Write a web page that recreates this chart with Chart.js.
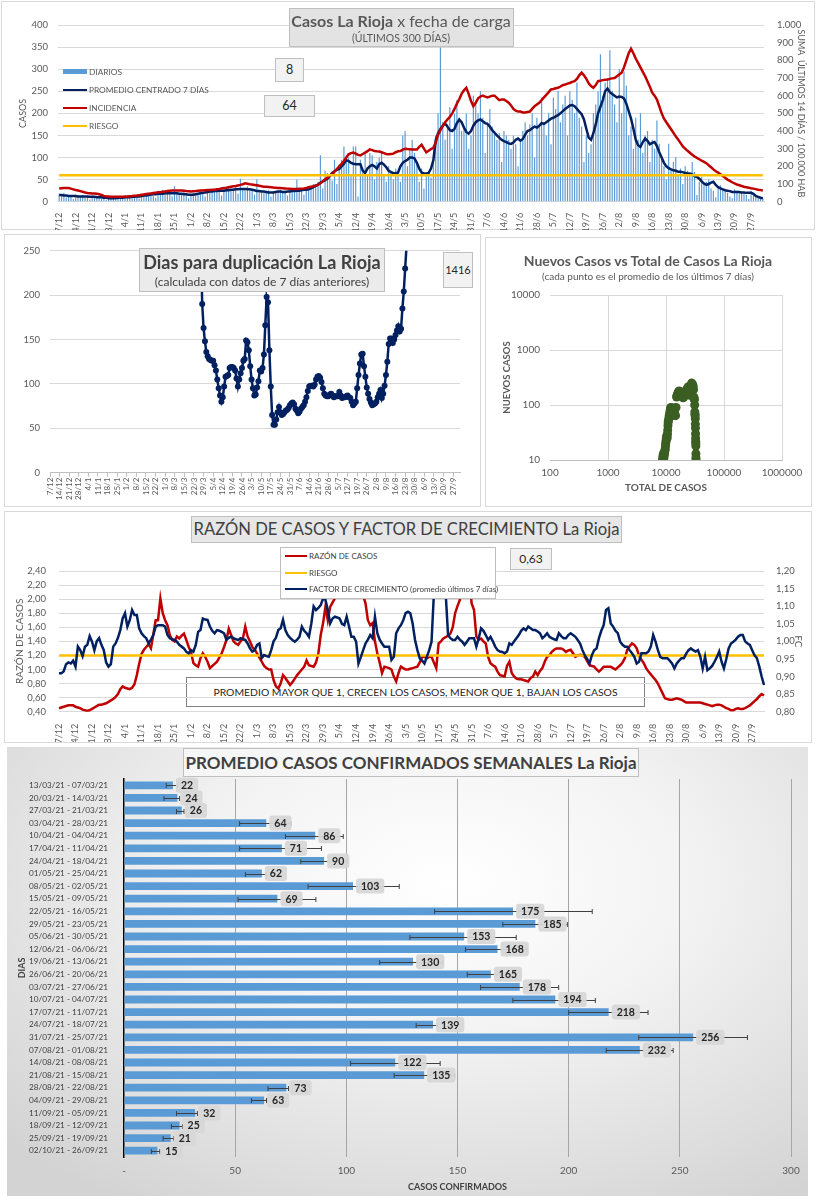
<!DOCTYPE html>
<html lang="es">
<head>
<meta charset="utf-8">
<title>Casos La Rioja</title>
<script src="https://cdn.jsdelivr.net/npm/chart.js@4.4.1/dist/chart.umd.min.js"></script>
<style>
html,body{margin:0;padding:0;background:#ffffff;}
body{position:relative;width:816px;height:1200px;overflow:hidden;font-family:Lato,"Open Sans",sans-serif;}
.panel{position:absolute;box-sizing:border-box;border:1px solid #d9d9d9;background:#ffffff;z-index:0;}
canvas{position:absolute;z-index:2;}
.bx{position:absolute;box-sizing:border-box;z-index:3;white-space:nowrap;text-align:center;}
.txt{position:absolute;z-index:4;white-space:nowrap;text-align:center;color:#595959;}
.lg{position:absolute;z-index:4;white-space:nowrap;color:#595959;}
.sw{display:inline-block;width:24px;vertical-align:middle;margin-right:2px;position:relative;top:-1px;}
</style>
</head>
<body>
<!-- panels -->
<div class="panel" style="left:1px;top:1px;width:814px;height:229px;"></div>
<div class="panel" style="left:4px;top:234px;width:477px;height:273px;"></div>
<div class="panel" style="left:485px;top:237px;width:327px;height:270px;"></div>
<div class="panel" style="left:4px;top:511px;width:808px;height:232px;"></div>
<div class="panel" style="left:7px;top:747px;width:801px;height:449px;border:none;background:radial-gradient(ellipse 75% 85% at 55% 30%, #ffffff 0%, #f3f3f3 40%, #d3d3d3 100%);"></div>

<!-- note box of chart 4 (behind the lines) -->
<div class="bx" style="z-index:1;left:186px;top:677px;width:459px;height:30px;border:1px solid #808080;font-size:10.4px;line-height:28px;color:#262626;">PROMEDIO MAYOR QUE 1, CRECEN LOS CASOS, MENOR QUE 1, BAJAN LOS CASOS</div>

<canvas id="c1" width="816" height="230" style="left:0;top:0;"></canvas>
<canvas id="c2" width="475" height="272" style="left:5px;top:235px;"></canvas>
<canvas id="c3" width="327" height="270" style="left:485px;top:237px;"></canvas>
<canvas id="c4" width="807" height="230" style="left:5px;top:512px;"></canvas>
<canvas id="c5" width="801" height="447" style="left:7px;top:748px;"></canvas>

<!-- chart 1 overlays -->
<div class="bx" style="left:289px;top:8px;width:225px;height:39px;background:#e3e3e3;border:1px solid #bfbfbf;"></div>
<div class="txt" style="left:201px;top:11px;width:400px;font-size:16px;line-height:20px;"><b>Casos La Rioja</b> x fecha de carga</div>
<div class="txt" style="left:201px;top:32px;width:400px;font-size:10.5px;line-height:12px;">(ÚLTIMOS 300 DÍAS)</div>
<div class="lg" style="left:63px;top:66px;font-size:8.3px;line-height:12px;"><span class="sw" style="height:5px;background:#5b9bd5;"></span>DIARIOS</div>
<div class="lg" style="left:63px;top:84px;font-size:8.3px;line-height:12px;"><span class="sw" style="height:2.5px;background:#002060;"></span>PROMEDIO CENTRADO 7 DÍAS</div>
<div class="lg" style="left:63px;top:102px;font-size:8.3px;line-height:12px;"><span class="sw" style="height:2.5px;background:#c00000;"></span>INCIDENCIA</div>
<div class="lg" style="left:63px;top:120px;font-size:8.3px;line-height:12px;"><span class="sw" style="height:2.5px;background:#ffc000;"></span>RIESGO</div>
<div class="bx" style="left:275px;top:58px;width:29px;height:24px;background:#f2f2f2;border:1px solid #bfbfbf;font-size:12.5px;line-height:22px;color:#262626;">8</div>
<div class="bx" style="left:264px;top:95px;width:51px;height:22px;background:#f2f2f2;border:1px solid #bfbfbf;font-size:12.5px;line-height:20px;color:#262626;">64</div>

<!-- chart 2 overlays -->
<div class="bx" style="left:139px;top:248px;width:246px;height:44px;background:#ebebeb;border:1px solid #bfbfbf;"></div>
<div class="txt" style="left:62px;top:252px;width:400px;font-size:18px;line-height:21px;font-weight:bold;color:#404040;">Dias para duplicación La Rioja</div>
<div class="txt" style="left:62px;top:275px;width:400px;font-size:12px;line-height:14px;color:#404040;">(calculada con datos de 7 días anteriores)</div>
<div class="bx" style="left:443px;top:252px;width:30px;height:36px;background:#f2f2f2;border:1px solid #bfbfbf;font-size:11px;line-height:34px;color:#262626;">1416</div>

<!-- chart 3 overlays -->
<div class="txt" style="left:448px;top:253px;width:400px;font-size:14px;line-height:16px;font-weight:bold;">Nuevos Casos vs Total de Casos La Rioja</div>
<div class="txt" style="left:448px;top:270px;width:400px;font-size:10px;line-height:12px;">(cada punto es el promedio de los últimos 7 días)</div>

<!-- chart 4 overlays -->
<div class="bx" style="left:191px;top:516px;width:431px;height:27px;background:#e7e7e7;border:1px solid #bfbfbf;font-size:16.6px;line-height:25px;color:#404040;">RAZÓN DE CASOS Y FACTOR DE CRECIMIENTO La Rioja</div>
<div class="bx" style="left:280px;top:547px;width:216px;height:52px;background:#ffffff;border:1px solid #bfbfbf;"></div>
<div class="lg" style="left:285px;top:551px;font-size:8px;line-height:10px;color:#404040;"><span class="sw" style="width:22px;height:2.5px;background:#c00000;"></span>RAZÓN DE CASOS</div>
<div class="lg" style="left:285px;top:568px;font-size:8px;line-height:10px;color:#404040;"><span class="sw" style="width:22px;height:2.5px;background:#ffc000;"></span>RIESGO</div>
<div class="lg" style="left:285px;top:584px;font-size:8px;line-height:10px;color:#404040;"><span class="sw" style="width:22px;height:2.5px;background:#002060;"></span>FACTOR DE CRECIMIENTO (promedio últimos 7 días)</div>
<div class="bx" style="left:510px;top:548px;width:42px;height:22px;background:#f2f2f2;border:1px solid #bfbfbf;font-size:12px;line-height:20px;color:#262626;">0,63</div>

<!-- chart 5 overlay -->
<div class="bx" style="left:183px;top:748px;width:456px;height:29px;background:#f6f6f6;border:1px solid #bfbfbf;font-size:17px;line-height:27px;font-weight:bold;color:#404040;">PROMEDIO CASOS CONFIRMADOS SEMANALES La Rioja</div>

<script>
// ---------------- DATA ----------------
const nDias = 300;            // 7/12/2020 ... 2/10/2021
const tickEvery = 7;          // one date label per week
const dayLabels = [];
for (let i = 0; i < nDias; i++) {
  const d = new Date(2020, 11, 7 + i);
  dayLabels.push(d.getDate() + '/' + (d.getMonth() + 1));
}

// Chart 1: daily cases (one row per week)
const diarios = [
18,15,20,10,14,12,6,
16,14,12,15,9,11,5,
13,12,10,11,8,9,4,
10,9,7,5,9,11,6,
12,11,13,9,14,10,7,
15,17,14,16,19,13,9,
22,20,27,18,21,17,12,
35,22,19,15,24,18,8,
14,20,18,16,23,19,12,
26,28,22,25,30,24,14,
28,24,32,26,30,35,18,
52,30,28,35,26,29,16,
50,22,25,20,24,26,12,
24,25,22,27,20,25,14,
28,26,30,50,24,28,16,
32,28,35,40,38,45,105,
30,70,65,60,48,95,40,
85,95,125,90,100,60,125,
125,12,95,70,110,60,110,
105,50,90,100,110,60,45,
80,70,50,75,65,45,150,
160,80,120,140,110,85,45,
75,30,60,70,55,90,150,
200,349,180,140,175,214,120,
199,230,190,160,170,199,120,
150,240,229,200,250,190,110,
180,210,170,160,140,155,90,
160,150,140,120,150,130,80,
140,160,180,150,175,200,100,
190,170,236,180,150,200,130,
236,210,251,180,220,240,150,
250,230,200,270,190,170,90,
150,110,130,200,220,250,334,
240,270,280,343,251,220,180,
300,200,295,263,150,170,120,
190,140,200,110,150,160,90,
140,120,184,131,100,80,50,
131,70,90,101,60,75,40,
80,70,60,90,67,15,45,
56,40,45,50,30,25,10,
30,37,28,25,20,12,8,
28,25,22,20,18,15,6,
24,20,12,10,9,8
];

// Chart 1: centred 7-day average (one row per week)
const promedio7 = [
15,15,14,14,13,13,13,
13,12,12,12,12,12,11,
11,11,10,10,10,9,9,
8,8,8,8,9,9,9,
10,10,10,11,11,12,12,
13,14,14,15,16,17,17,
18,18,18,19,19,19,19,
19,19,18,18,17,17,16,
16,16,17,18,19,20,21,
22,23,23,24,24,25,25,
25,26,26,27,27,28,28,
29,29,29,28,28,27,26,
24,24,23,23,22,21,21,
21,22,23,23,22,22,23,
23,24,24,25,25,26,27,
27,28,30,33,36,39,43,
46,49,52,58,65,69,72,
74,80,86,94,92,88,86,
85,85,85,70,65,75,80,
83,80,75,85,88,84,78,
70,67,65,64,66,80,88,
92,95,100,100,98,88,75,
66,64,64,65,75,94,139,
155,165,172,177,170,162,160,
165,178,186,180,168,158,154,
160,172,180,184,186,182,178,
176,170,162,156,150,145,140,
137,135,132,131,134,140,143,
138,142,152,160,162,166,170,
168,172,178,176,180,184,188,
190,193,196,200,205,210,214,
218,219,216,210,204,198,186,
165,145,140,155,175,200,215,
230,250,256,248,244,240,236,
238,237,234,222,205,188,165,
140,128,124,135,143,138,130,
133,135,126,112,100,88,80,
76,73,71,70,68,68,67,
65,64,64,62,58,56,52,
46,41,38,40,43,45,38,
33,30,28,26,25,24,22,
22,22,22,21,21,20,20,
20,18,13,11,9,8
];

// Chart 1: 14-day incidence per 100.000 (ten days per row)
const incidencia = [
75,76,77,78,77,74,70,66,63,60,
56,52,49,48,47,46,45,42,38,33,
30,29,28,28,28,28,28,28,29,30,
31,32,34,35,37,39,41,43,45,47,
49,51,53,54,56,58,60,62,63,63,
63,63,63,62,60,59,58,59,60,62,
63,64,65,66,66,67,68,70,72,75,
77,79,82,85,87,89,92,95,99,104,
102,99,97,95,93,90,87,85,84,83,
82,80,79,78,77,76,75,74,73,72,
72,72,73,74,75,78,82,85,88,92,
95,105,115,127,137,147,156,170,185,200,
215,230,250,268,275,278,272,265,262,270,
278,286,296,292,287,285,284,280,275,270,
268,270,272,280,285,287,295,300,298,297,
296,295,295,310,322,300,280,288,298,305,
335,380,405,430,450,465,480,500,525,555,
580,610,630,644,610,570,540,560,585,595,
600,595,590,595,600,600,588,575,578,578,
570,560,545,525,515,510,510,505,505,508,
510,525,540,550,560,575,590,605,620,635,
638,642,645,652,660,663,668,672,678,682,
695,715,730,715,695,670,655,645,660,682,
685,688,690,692,695,698,700,710,720,730,
760,800,840,866,840,810,786,760,735,710,
680,650,617,600,578,540,500,470,450,430,
410,390,370,352,333,313,300,288,277,266,
256,248,240,232,225,218,206,195,183,172,
165,155,145,135,125,118,110,103,97,93,
89,85,82,79,76,74,71,68,66,64
];
const riesgoIncidencia = 150;

// Chart 2: doubling days, starting on day index dupInicio
const dupInicio = 110;
const duplicacion = [
260,190,163,148,136,131,128,127,126,126,
121,115,105,95,87,80,85,97,108,109,
110,118,119,119,118,115,106,97,105,112,
118,126,128,149,147,138,120,105,95,87,
88,96,103,115,114,118,133,166,198,192,
138,97,65,54,54,60,68,74,68,65,
66,68,70,71,73,76,78,79,77,72,
70,67,69,72,74,76,80,85,92,97,
98,98,97,99,105,108,109,107,102,95,
89,87,86,86,88,89,87,85,86,86,
86,91,87,84,85,85,86,87,85,84,
80,76,78,80,95,110,123,133,134,120,
108,96,89,83,79,76,77,78,80,85,
89,93,84,89,98,110,125,145,151,151,
146,150,155,160,165,159,162,185,204,230,
255,300
];

// Chart 3: total cases vs new cases (7-day average)
const totalCasos = [8700,8800,8900,9000,9100,9200,9300,9400,9500,9600,9700,9800,9900,10000,10100,10200,10300,10400,10500,10600,10700,10800,10900,11000,11200,11400,11600,11800,12000,12200,12400,12600,12800,13000,13200,13400,13600,13800,14000,14300,14600,14900,15200,15500,15900,16300,16800,17300,17800,18300,18800,19300,19800,20300,20800,21300,21800,22400,23000,23600,24200,24800,25400,25900,26400,27000,27600,28200,28800,29400,29900,30300,30600,30900,31200,31400,31600,31800,32000,32100,32200,32300,32400,32500,32600,32700,32800,32850,32900];
const nuevosCasos = [10,11,12,13,12,11,12,13,14,15,16,18,20,22,24,26,27,28,25,30,35,42,48,52,58,65,72,80,88,90,85,86,80,70,65,78,85,88,75,66,64,90,140,150,160,172,180,175,165,160,150,140,135,140,155,165,175,185,195,200,215,205,180,150,175,215,250,245,235,220,190,140,130,125,100,75,68,64,56,45,38,30,25,22,20,18,13,11,10];
const logTicksX = [100,1000,10000,100000,1000000];
const logTicksY = [10,100,1000,10000];

// Chart 4: case ratio (left axis) and growth factor (right axis), ten days per row
const razonCasos = [
.45,.46,.47,.48,.49,.49,.49,.47,.46,.45,
.43,.42,.41,.42,.44,.46,.48,.50,.50,.51,
.52,.54,.56,.58,.61,.65,.72,.76,.74,.73,
.72,.74,.79,.92,1.08,1.22,1.28,1.32,1.36,1.30,
1.50,1.70,1.70,2.01,1.80,1.70,1.63,1.49,1.42,1.40,
1.47,1.44,1.48,1.51,1.42,1.32,1.25,1.09,1.06,1.04,
1.16,1.23,1.18,1.11,1.02,1.05,1.08,1.11,1.17,1.23,
1.32,1.42,1.58,1.49,1.40,1.37,1.35,1.40,1.44,1.61,
1.47,1.40,1.32,1.28,1.23,1.17,1.11,1.05,1.02,1.00,
1.00,.85,.76,.73,.80,.92,.88,.83,.78,.82,
.87,.92,.96,1.00,1.04,1.13,1.06,1.05,1.04,1.10,
1.23,1.49,1.66,1.89,1.70,1.89,1.95,2.01,2.20,2.35,
2.50,2.60,2.70,2.65,2.60,2.50,2.40,2.30,2.20,2.05,
1.94,1.70,1.63,1.66,1.40,1.23,1.10,.95,1.04,1.03,
1.02,1.00,.90,.83,.95,1.04,1.02,1.00,1.00,1.01,
1.02,1.03,1.04,1.10,1.18,1.18,1.16,1.18,1.18,1.10,
1.02,1.37,1.40,1.44,1.46,1.48,1.51,1.60,1.80,1.90,
1.99,2.27,2.50,2.60,2.30,1.94,1.85,1.47,1.42,1.44,
1.40,1.37,1.18,1.09,1.06,1.04,.97,.92,.91,.90,
1.05,1.11,.95,.90,.87,.86,.86,.85,.84,.83,
.88,.90,.97,.92,.98,1.02,1.11,1.18,1.20,1.25,
1.28,1.30,1.30,1.30,1.28,1.25,1.27,1.28,1.23,1.18,
1.20,1.21,1.20,1.18,1.12,1.06,1.05,1.04,1.00,.97,
1.00,1.04,1.04,1.04,1.04,1.02,1.00,1.03,1.06,1.10,
1.16,1.28,1.33,1.37,1.35,1.30,1.20,1.14,1.09,1.02,
.97,.93,.89,.85,.80,.73,.66,.59,.58,.57,
.57,.58,.59,.58,.57,.55,.53,.53,.53,.53,
.53,.53,.53,.52,.51,.50,.49,.48,.49,.50,
.50,.49,.47,.45,.44,.42,.42,.44,.45,.44,
.44,.45,.47,.49,.52,.55,.58,.62,.65,.63
];
const factorCrecimiento = [
.909,.909,.915,.935,.940,.937,.945,.928,.985,.975,
.958,.985,.99,1.015,.999,.975,1.0,1.009,.99,.975,
.940,.928,.935,.985,.994,1.01,1.032,1.065,1.08,1.042,
1.06,1.089,1.075,1.075,1.037,1.023,1.015,1.009,.994,1.005,
1.018,1.042,1.046,1.046,1.046,1.042,1.018,1.009,1.006,1.004,
.999,.99,.985,.98,.97,.966,.975,.971,.99,1.027,
1.032,1.065,1.062,1.061,1.042,1.03,1.023,1.032,1.03,1.027,
1.023,1.004,1.01,1.013,1.009,1.006,1.004,1.009,1.006,1.004,
.994,.98,.971,.975,.99,.994,.952,.961,.958,.956,
.975,1.0,1.01,1.032,1.037,1.061,1.032,1.018,1.01,1.004,
.999,1.005,1.013,1.042,1.03,1.023,1.013,1.05,1.099,1.089,
1.095,1.103,1.122,1.118,1.089,1.051,1.065,1.07,1.068,1.065,
1.05,1.046,1.07,1.042,1.013,1.013,.999,.937,.955,.975,
.994,1.005,1.018,1.009,1.07,1.023,1.005,.994,.985,.985,
.985,.947,.956,1.023,1.037,1.046,1.06,1.08,1.084,1.08,
1.05,1.004,.975,.952,.945,.937,.956,.975,.999,1.136,
1.184,1.25,1.28,1.2,1.136,1.018,1.009,1.004,1.004,1.013,
1.005,.999,.99,.999,1.009,1.009,1.009,.985,1.009,1.037,
1.03,1.018,1.004,1.013,1.0,.985,.975,.971,.97,.966,
.971,.994,.99,1.0,1.009,1.018,1.03,1.037,1.032,1.042,
1.037,1.032,1.032,1.028,1.023,1.009,1.015,1.023,1.013,1.009,
1.006,1.004,1.023,1.015,1.009,1.009,1.018,1.023,1.018,1.013,
1.004,.994,.975,.96,.95,.937,.961,.975,.98,1.009,
1.03,1.046,1.089,1.094,1.051,1.042,1.03,1.023,.999,.99,
.985,.985,.975,.966,.956,.937,.942,.966,.966,.966,
.971,.985,1.018,.999,.975,.956,.952,.952,.952,.945,
.937,.923,.937,.945,.952,.952,.965,.975,.98,.975,
.971,.975,.956,.923,.956,.918,.923,.93,.942,.955,
.971,.942,.923,.95,.98,.994,.999,1.005,1.013,1.018,
1.018,1.0,.994,.99,.975,.96,.952,.928,.9,.876
];
const riesgoRazon = 1.2;

// Chart 5: weekly averages with min / max error bars
const semanas = ['13/03/21 - 07/03/21','20/03/21 - 14/03/21','27/03/21 - 21/03/21','03/04/21 - 28/03/21','10/04/21 - 04/04/21','17/04/21 - 11/04/21','24/04/21 - 18/04/21','01/05/21 - 25/04/21','08/05/21 - 02/05/21','15/05/21 - 09/05/21','22/05/21 - 16/05/21','29/05/21 - 23/05/21','05/06/21 - 30/05/21','12/06/21 - 06/06/21','19/06/21 - 13/06/21','26/06/21 - 20/06/21','03/07/21 - 27/06/21','10/07/21 - 04/07/21','17/07/21 - 11/07/21','24/07/21 - 18/07/21','31/07/21 - 25/07/21','07/08/21 - 01/08/21','14/08/21 - 08/08/21','21/08/21 - 15/08/21','28/08/21 - 22/08/21','04/09/21 - 29/08/21','11/09/21 - 05/09/21','18/09/21 - 12/09/21','25/09/21 - 19/09/21','02/10/21 - 26/09/21'];
const promedioSemanal = [22,24,26,64,86,71,90,62,103,69,175,185,153,168,130,165,178,194,218,139,256,232,122,135,73,63,32,25,21,15];
const errorMin = [19,18,23.6,52,72.6,52,79.5,54.6,82.8,51.3,139.7,170.4,128.6,153.6,115,154.4,160.4,174.9,200,131.4,231.5,216.9,101.9,121.5,64.8,57.3,23.6,21.3,17.6,12.3];
const errorMax = [24,25,27,75,98.6,88.8,100.5,64,123.8,86.3,210.6,199.4,176.4,181.2,143.4,169,195.5,212,235.7,141,280.4,247,142.2,148.7,74,64.1,33,26.3,22.4,16.1];

// ---------------- HELPERS ----------------
Chart.defaults.font.family = "Lato, 'Open Sans', sans-serif";
Chart.defaults.color = '#595959';
Chart.defaults.animation = false;
Chart.defaults.responsive = false;
Chart.defaults.plugins.legend.display = false;
Chart.defaults.plugins.tooltip.enabled = false;

function fontAvailable(name) {
  const c = document.createElement('canvas').getContext('2d');
  const s = '13/03/21 - 07/03/21 WWWmmmiii';
  c.font = '40px monospace';
  const a = c.measureText(s).width;
  c.font = '40px "' + name + '", monospace';
  const b = c.measureText(s).width;
  return Math.abs(a - b) > 0.5;
}
const hasNarrow = fontAvailable('Liberation Sans Narrow');
const weekFont = hasNarrow ? { family: '"Liberation Sans Narrow"', size: 11 } : { size: 8.2 };

const weekTick = (value, index) => (index % tickEvery === 0 ? dayLabels[index] : null);
const fmtMiles = v => v >= 1000 ? Math.floor(v / 1000) + '.' + String(v % 1000).padStart(3, '0') : String(v);
const fmtComa = v => Number(v).toFixed(2).replace('.', ',');
const fixW = w => (s => { s.width = w; });
const fixH = h => (s => { s.height = h; });
const constSeries = (v) => dayLabels.map(() => v);

// ---------------- CHART 1 ----------------
new Chart(document.getElementById('c1'), {
  type: 'bar',
  data: {
    labels: dayLabels,
    datasets: [
      { type: 'line', data: constSeries(riesgoIncidencia), yAxisID: 'y1', borderColor: '#ffc000', borderWidth: 2.5, pointRadius: 0, order: 0 },
      { type: 'line', data: incidencia, yAxisID: 'y1', borderColor: '#c00000', borderWidth: 2.5, pointRadius: 0, order: 1 },
      { type: 'line', data: promedio7, yAxisID: 'y', borderColor: '#002060', borderWidth: 2.5, pointRadius: 0, order: 2 },
      { type: 'bar', data: diarios, yAxisID: 'y', backgroundColor: '#5b9bd5', barPercentage: 0.5, categoryPercentage: 1, order: 3 }
    ]
  },
  options: {
    layout: { padding: { top: 25, left: 0, right: 0, bottom: 0 } },
    scales: {
      x: { grid: { display: false }, border: { color: '#d9d9d9' },
           ticks: { autoSkip: false, minRotation: 90, maxRotation: 90, padding: 3, font: { size: 9 }, callback: weekTick },
           afterFit: fixH(28.3) },
      y: { position: 'left', min: 0, max: 400, grid: { color: '#d9d9d9', drawTicks: false }, border: { display: false },
           ticks: { stepSize: 50, autoSkip: false, padding: 10, font: { size: 9.5 } },
           title: { display: true, text: 'CASOS', font: { size: 9 }, padding: { top: 18, bottom: 0 } },
           afterFit: fixW(58) },
      y1: { position: 'right', min: 0, max: 1000, grid: { display: false }, border: { display: false },
            ticks: { stepSize: 100, autoSkip: false, padding: 5, font: { size: 9.5 }, callback: fmtMiles },
            title: { display: true, text: 'SUMA  ÚLTIMOS 14 DÍAS / 100.000 HAB', font: { size: 9 }, padding: { top: 10, bottom: 0 } },
            afterFit: fixW(52) }
    }
  }
});

// ---------------- CHART 2 ----------------
const dupSerie = dayLabels.map(() => null);
duplicacion.forEach((v, i) => { dupSerie[dupInicio + i] = v; });
new Chart(document.getElementById('c2'), {
  type: 'line',
  data: { labels: dayLabels, datasets: [
    { data: dupSerie, borderColor: '#002060', backgroundColor: '#002060', borderWidth: 2.5, pointRadius: 3, pointBorderWidth: 0, spanGaps: false }
  ] },
  options: {
    layout: { padding: { top: 15, left: 0, right: 20, bottom: 0 } },
    scales: {
      x: { offset: false,
           grid: { display: true, drawOnChartArea: false, drawTicks: true, tickLength: 4, color: '#bfbfbf' },
           border: { color: '#bfbfbf' },
           ticks: { autoSkip: false, minRotation: 90, maxRotation: 90, padding: 1, font: { size: 8 }, callback: weekTick },
           afterFit: fixH(34.3) },
      y: { min: 0, max: 250, grid: { color: '#d9d9d9', drawTicks: false }, border: { display: false },
           ticks: { stepSize: 50, autoSkip: false, padding: 10, font: { size: 9.5 } },
           afterFit: fixW(45) }
    }
  }
});

// ---------------- CHART 3 ----------------
new Chart(document.getElementById('c3'), {
  type: 'scatter',
  data: { datasets: [
    { data: totalCasos.map((t, i) => ({ x: t, y: nuevosCasos[i] })), backgroundColor: '#3b5e23', borderColor: '#3b5e23', pointRadius: 4.5, pointBorderWidth: 0 }
  ] },
  options: {
    layout: { padding: { top: 58, left: 0, right: 30, bottom: 0 } },
    scales: {
      x: { type: 'logarithmic', min: 100, max: 1000000,
           afterBuildTicks: s => { s.ticks = logTicksX.map(v => ({ value: v })); },
           grid: { drawTicks: false, color: c => (c.tick && c.tick.value === 100 ? 'rgba(0,0,0,0)' : '#d9d9d9') },
           border: { color: '#bfbfbf' },
           ticks: { autoSkip: false, padding: 7, font: { size: 10 }, callback: v => String(v) },
           title: { display: true, text: 'TOTAL DE CASOS', font: { size: 10, weight: 'bold' }, padding: { top: 0, bottom: 13 } },
           afterFit: fixH(47) },
      y: { type: 'logarithmic', min: 10, max: 10000,
           afterBuildTicks: s => { s.ticks = logTicksY.map(v => ({ value: v })); },
           grid: { drawTicks: false, color: '#d9d9d9' }, border: { display: false },
           ticks: { autoSkip: false, padding: 10, font: { size: 10 }, callback: v => String(v) },
           title: { display: true, text: 'NUEVOS CASOS', font: { size: 9.5, weight: 'bold' }, padding: { top: 16, bottom: 0 } },
           afterFit: fixW(65) }
    }
  }
});

// ---------------- CHART 4 ----------------
new Chart(document.getElementById('c4'), {
  type: 'line',
  data: { labels: dayLabels, datasets: [
    { data: factorCrecimiento, yAxisID: 'y1', borderColor: '#002060', borderWidth: 2.5, pointRadius: 0, order: 0 },
    { data: constSeries(riesgoRazon), yAxisID: 'y', borderColor: '#ffc000', borderWidth: 2.5, pointRadius: 0, order: 1 },
    { data: razonCasos, yAxisID: 'y', borderColor: '#c00000', borderWidth: 2.5, pointRadius: 0, order: 2 }
  ] },
  options: {
    layout: { padding: { top: 59, left: 0, right: 0, bottom: 0 } },
    scales: {
      x: { offset: false, grid: { display: false }, border: { color: '#d9d9d9' },
           ticks: { autoSkip: false, minRotation: 90, maxRotation: 90, padding: 4, font: { size: 9 }, callback: weekTick },
           afterFit: fixH(30.3) },
      y: { position: 'left', min: 0.4, max: 2.4, grid: { color: '#d9d9d9', drawTicks: false }, border: { display: false },
           ticks: { stepSize: 0.2, autoSkip: false, padding: 13, font: { size: 9.5 }, callback: fmtComa },
           title: { display: true, text: 'RAZÓN DE CASOS', font: { size: 10 }, padding: { top: 9, bottom: 0 } },
           afterFit: fixW(54) },
      y1: { position: 'right', min: 0.8, max: 1.2, grid: { display: false }, border: { display: false },
            ticks: { stepSize: 0.05, autoSkip: false, padding: 4, font: { size: 9.5 }, callback: fmtComa },
            title: { display: true, text: 'FC', font: { size: 10 }, padding: { top: 8, bottom: 0 } },
            afterFit: fixW(48) }
    }
  }
});

// ---------------- CHART 5 ----------------
const errorBarsPlugin = {
  id: 'errorBars',
  afterDatasetsDraw(chart) {
    const ctx = chart.ctx, xs = chart.scales.x;
    const meta = chart.getDatasetMeta(0);
    ctx.save();
    ctx.strokeStyle = '#404040';
    ctx.lineWidth = 1;
    meta.data.forEach((bar, i) => {
      const y = Math.round(bar.y) + 0.5;
      const x1 = xs.getPixelForValue(errorMin[i]);
      const x2 = xs.getPixelForValue(errorMax[i]);
      ctx.beginPath();
      ctx.moveTo(x1, y); ctx.lineTo(x2, y);
      ctx.moveTo(x1, y - 2.5); ctx.lineTo(x1, y + 2.5);
      ctx.moveTo(x2, y - 2.5); ctx.lineTo(x2, y + 2.5);
      ctx.stroke();
    });
    ctx.restore();
  }
};
const valueLabelsPlugin = {
  id: 'valueLabels',
  afterDatasetsDraw(chart) {
    const ctx = chart.ctx;
    const meta = chart.getDatasetMeta(0);
    ctx.save();
    ctx.font = "bold 10.5px Lato, 'Open Sans', sans-serif";
    ctx.textBaseline = 'middle';
    ctx.textAlign = 'center';
    meta.data.forEach((bar, i) => {
      const t = String(promedioSemanal[i]);
      const w = ctx.measureText(t).width + 10;
      const bx = bar.x + 3, by = bar.y - 7.5;
      ctx.fillStyle = 'rgba(215,215,215,0.95)';
      ctx.beginPath();
      if (ctx.roundRect) ctx.roundRect(bx, by, w, 15, 3); else ctx.rect(bx, by, w, 15);
      ctx.fill();
      ctx.fillStyle = '#262626';
      ctx.fillText(t, bx + w / 2, bar.y + 0.5);
    });
    ctx.restore();
  }
};
new Chart(document.getElementById('c5'), {
  type: 'bar',
  data: { labels: semanas, datasets: [
    { data: promedioSemanal, backgroundColor: '#5b9bd5', barPercentage: 0.62, categoryPercentage: 1 }
  ] },
  options: {
    indexAxis: 'y',
    layout: { padding: { top: 31, left: 0, right: 17, bottom: 0 } },
    scales: {
      x: { min: 0, max: 300,
           grid: { drawTicks: false, color: c => (c.tick && c.tick.value === 0 ? 'rgba(0,0,0,0)' : '#a6a6a6') },
           border: { display: false },
           ticks: { stepSize: 50, padding: 8, font: { size: 10 }, callback: v => (v === 0 ? '-' : String(v)) },
           title: { display: true, text: 'CASOS CONFIRMADOS', color: '#404040', font: { size: 9, weight: 'bold' }, padding: { top: 0, bottom: 3 } },
           afterFit: fixH(38) },
      y: { grid: { display: false }, border: { display: true, color: '#000000', width: 1.5 },
           ticks: { autoSkip: false, padding: 8, color: '#404040', font: weekFont },
           title: { display: true, text: 'DIAS', color: '#404040', font: { size: 9, weight: 'bold' }, padding: { top: 9.6, bottom: 0 } },
           afterFit: fixW(117) }
    }
  },
  plugins: [errorBarsPlugin, valueLabelsPlugin]
});
</script>
</body>
</html>
